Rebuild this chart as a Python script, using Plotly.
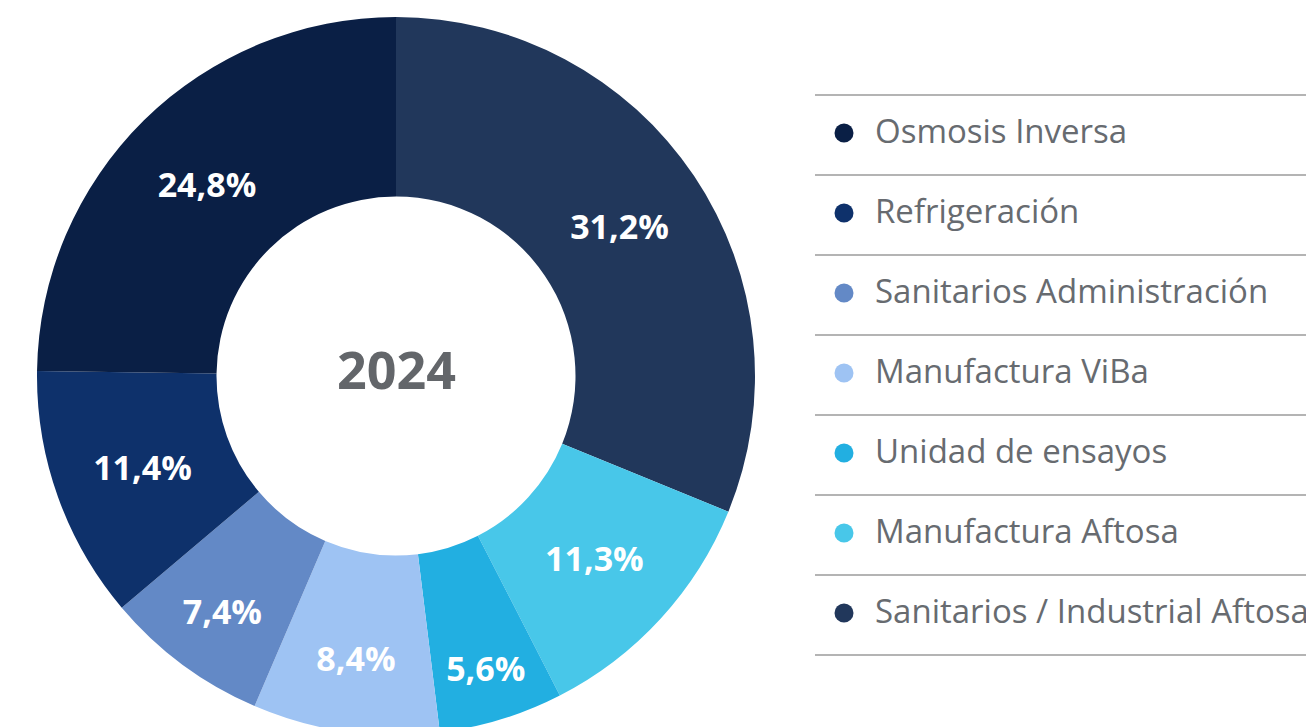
import plotly.graph_objects as go

# Categorías en orden del gráfico (sentido horario desde las 12)
categorias = [
    "Sanitarios / Industrial Aftosa",
    "Manufactura Aftosa",
    "Unidad de ensayos",
    "Manufactura ViBa",
    "Sanitarios Administración",
    "Refrigeración",
    "Osmosis Inversa",
]
porcentajes = [31.2, 11.3, 5.6, 8.4, 7.4, 11.4, 24.8]
colores = ["#21375b", "#48c7e9", "#22afe1", "#9ec3f3", "#6389c6", "#0e316b", "#0a1f45"]

# Orden de la leyenda (de arriba hacia abajo)
orden_leyenda = [
    "Osmosis Inversa",
    "Refrigeración",
    "Sanitarios Administración",
    "Manufactura ViBa",
    "Unidad de ensayos",
    "Manufactura Aftosa",
    "Sanitarios / Industrial Aftosa",
]
anio = "2024"

W, H = 1314, 727
TOP = 9
OFF = 8  # margen del body de la página

fig = go.Figure()

fig.add_trace(
    go.Pie(
        labels=categorias,
        values=porcentajes,
        hole=0.5,
        sort=False,
        direction="clockwise",
        rotation=0,
        marker=dict(colors=colores, line=dict(width=0)),
        texttemplate="%{value:.1f}%",
        textposition="inside",
        insidetextorientation="horizontal",
        textfont=dict(family="Open Sans", size=34, color="white", weight="bold"),
        domain=dict(x=[0, 776 / W], y=[0, 1]),
        showlegend=False,
        hoverinfo="label+value",
    )
)

# Leyenda personalizada: coordenadas en píxeles mediante ejes ocultos
color_por_cat = dict(zip(categorias, colores))
fila_y = [133 - OFF + 80 * i for i in range(len(orden_leyenda))]

fig.add_trace(
    go.Scatter(
        x=[844 - OFF] * len(orden_leyenda),
        y=fila_y,
        mode="markers",
        marker=dict(size=19, color=[color_por_cat[c] for c in orden_leyenda]),
        showlegend=False,
        hoverinfo="skip",
    )
)

for i, cat in enumerate(orden_leyenda):
    fig.add_annotation(
        x=873 - OFF, y=fila_y[i] - 3, xref="x", yref="y",
        text=cat, showarrow=False, xanchor="left", yanchor="middle",
        font=dict(family="Open Sans", size=33, color="#676b70"),
    )

for i in range(len(orden_leyenda) + 1):
    y = 95 - OFF + 80 * i
    fig.add_shape(
        type="line", xref="x", yref="y",
        x0=815 - OFF, x1=W, y0=y, y1=y,
        line=dict(color="#b4b4b4", width=2),
    )

fig.add_annotation(
    x=0.5 * 776 / W, y=0.5, xref="paper", yref="paper",
    xanchor="center", yanchor="middle", yshift=8,
    text=f"<b>{anio}</b>", showarrow=False,
    font=dict(family="Open Sans", size=52, color="#63666a"),
)

fig.update_layout(
    width=W,
    height=H,
    margin=dict(l=0, r=0, t=TOP, b=0),
    paper_bgcolor="white",
    plot_bgcolor="rgba(0,0,0,0)",
    separators=",.",
    xaxis=dict(range=[0, W], visible=False, fixedrange=True),
    yaxis=dict(range=[H, TOP], visible=False, fixedrange=True),
)

fig.write_html("out.html")
